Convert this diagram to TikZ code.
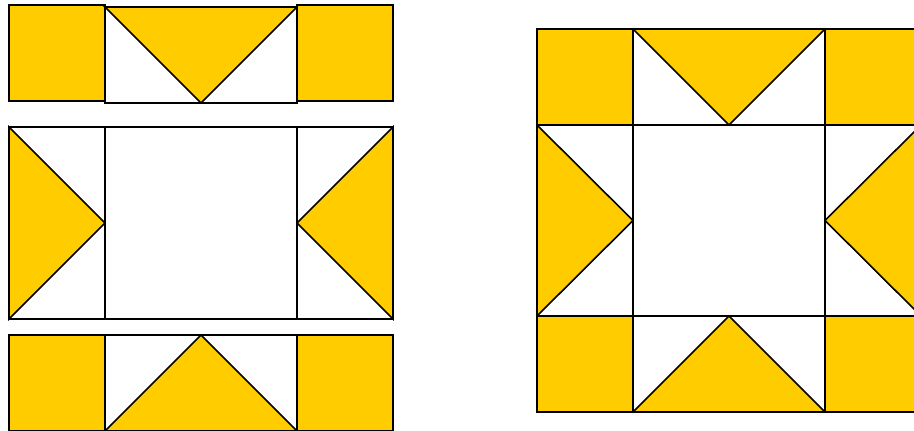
\documentclass[tikz,border=0pt]{standalone}
\definecolor{qy}{HTML}{FFCC00}
\tikzset{
  piece/.style={draw=black, line width=1.6pt, line join=miter},
  ypiece/.style={piece, fill=qy},
  wpiece/.style={piece, fill=white}
}
\begin{document}
\begin{tikzpicture}[x=1pt,y=-1pt]
\useasboundingbox (0,0) rectangle (914,431);
% ===== Left block, top row =====
\draw[ypiece] (9,5) rectangle (105,101);
\draw[wpiece] (105,7) rectangle (297,103);
\draw[ypiece] (105,7) -- (297,7) -- (201,103) -- cycle;
\draw[ypiece] (297,5) rectangle (393,101);
% ===== Left block, middle row =====
\draw[wpiece] (9,127) rectangle (393,319);
\draw[piece] (105,127) -- (105,319) (297,127) -- (297,319);
\draw[ypiece] (9,127) -- (105,223) -- (9,319) -- cycle;
\draw[ypiece] (393,127) -- (297,223) -- (393,319) -- cycle;
% ===== Left block, bottom row =====
\draw[ypiece] (9,335) rectangle (105,431);
\draw[wpiece] (105,335) rectangle (297,431);
\draw[ypiece] (105,431) -- (201,335) -- (297,431) -- cycle;
\draw[ypiece] (297,335) rectangle (393,431);
% ===== Right block =====
\draw[ypiece] (537,29) rectangle (633,125);
\draw[wpiece] (633,29) rectangle (825,125);
\draw[ypiece] (633,29) -- (825,29) -- (729,125) -- cycle;
\draw[ypiece] (825,29) rectangle (921,125);
\draw[wpiece] (537,125) rectangle (921,316);
\draw[piece] (633,125) -- (633,316) (825,125) -- (825,316);
\draw[ypiece] (537,125) -- (633,220.5) -- (537,316) -- cycle;
\draw[ypiece] (921,125) -- (825,220.5) -- (921,316) -- cycle;
\draw[ypiece] (537,316) rectangle (633,412);
\draw[wpiece] (633,316) rectangle (825,412);
\draw[ypiece] (633,412) -- (729,316) -- (825,412) -- cycle;
\draw[ypiece] (825,316) rectangle (921,412);
\end{tikzpicture}
\end{document}
